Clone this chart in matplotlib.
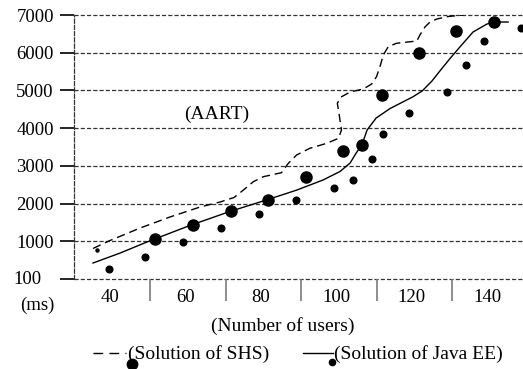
import matplotlib
matplotlib.use("Agg")
import matplotlib.pyplot as plt
from matplotlib.lines import Line2D

plt.rcParams['font.family'] = ['Liberation Serif', 'DejaVu Serif']
plt.rcParams['lines.scale_dashes'] = False

# ---- data ----
# SHS big dots
shs_x = [51.9, 61.9, 72.0, 82.0, 92.0, 101.8, 106.9, 112.1, 121.9, 131.9, 141.9]
shs_y = [1061, 1424, 1795, 2103, 2697, 3386, 3545, 4871, 6000, 6584, 6807]
# Java EE small dots
jee_x = [39.7, 49.3, 59.4, 69.4, 79.6, 89.3, 99.3, 104.5, 109.4, 112.4, 119.3, 129.3, 134.5, 139.3, 148.9]
jee_y = [273, 583, 981, 1360, 1731, 2087, 2413, 2633, 3182, 3853, 4409, 4966, 5666, 6311, 6663]
# tiny marker at start of dashed curve
tiny_x = [36.6]
tiny_y = [769]
# SHS curve (dashed)
shs_line_x = [35.5, 39.7, 48.0, 55.9, 63.9, 69.2, 72.9, 75.4, 78.0, 80.7, 85.5, 87.3, 89.5, 93.0,
              97.5, 100.6, 101.4, 101.0, 100.6, 100.3, 101.3, 103.7, 107.2, 109.4, 110.7, 111.6,
              112.5, 113.8, 116.0, 121.4, 122.2, 123.6, 124.9, 126.7, 129.7, 133.7]
shs_line_y = [809, 1008, 1352, 1644, 1909, 2042, 2161, 2360, 2580, 2713, 2819, 3068, 3288, 3466,
              3598, 3731, 3951, 4216, 4481, 4659, 4826, 4958, 5038, 5170, 5364, 5629,
              5939, 6160, 6250, 6311, 6470, 6690, 6814, 6894, 6960, 7000]
# Java EE curve (solid)
jee_line_x = [35.5, 42.7, 49.8, 61.2, 71.8, 81.9, 89.6, 96.5, 101.0, 103.7, 105.3, 106.8, 108.2,
              110.6, 114.3, 120.4, 122.8, 125.4, 127.5, 130.2, 132.8, 136.3, 140.0, 141.9, 145.6]
jee_line_y = [424, 689, 981, 1419, 1790, 2108, 2360, 2625, 2850, 3076, 3341, 3553, 3951,
              4269, 4521, 4834, 4985, 5250, 5515, 5847, 6151, 6549, 6761, 6814, 6814]

ytick_vals = [0, 1000, 2000, 3000, 4000, 5000, 6000, 7000]
ytick_labels = ['', '1000', '2000', '3000', '4000', '5000', '6000', '7000']
xtick_vals = [40, 60, 80, 100, 120, 140]
xtick_labels = ['40', '60', '80', '100', '120', '140']
xsep = [50.7, 70.7, 90.7, 110.7, 130.7]

W, H = 523, 369
fig = plt.figure(figsize=(W / 100, H / 100), dpi=100)
ax = fig.add_axes([74 / W, 1 - 279 / H, (523 - 74) / W, (279 - 15) / H])
ax.set_xlim(30.45, 149.55)
ax.set_ylim(0, 7000)

gridstyle = (0, (3, 1.5))
for v in ytick_vals:
    ax.axhline(v, color='#333333', lw=0.9, ls=gridstyle, zorder=1, clip_on=False)

for s in ['top', 'right', 'bottom']:
    ax.spines[s].set_visible(False)
ax.spines['left'].set_linestyle(gridstyle)
ax.spines['left'].set_linewidth(0.9)
ax.spines['left'].set_color('#333333')

ax.set_yticks(ytick_vals)
ax.set_yticklabels(ytick_labels)
ax.tick_params(axis='y', length=10, width=1.2, color='black', pad=4.5, labelsize=13.5)

ax.set_xticks(xsep)
ax.set_xticklabels([])
ax.tick_params(axis='x', which='major', length=16, width=1.2, color='#7a7a7a', direction='out')
ax.set_xticks(xtick_vals, minor=True)
ax.set_xticklabels(xtick_labels, minor=True)
ax.tick_params(axis='x', which='minor', length=0, pad=7, labelsize=13.5)

# curves
ax.plot(shs_line_x, shs_line_y, color='black', lw=1.0, ls=(0, (6, 3.5)), zorder=3)
ax.plot(jee_line_x, jee_line_y, color='black', lw=1.0, ls='-', zorder=3)
# points
ax.plot(shs_x, shs_y, 'o', color='black', ms=8.0, zorder=4, clip_on=False)
ax.plot(jee_x, jee_y, 'o', color='black', ms=4.8, zorder=4, clip_on=False)
ax.plot(tiny_x, tiny_y, 'o', color='black', ms=2.2, zorder=4, clip_on=False)

def fx(px):
    return px / W

def fy(py):
    return 1 - py / H

fig.text(fx(27), fy(280), '100', ha='center', va='center', fontsize=13.5)
fig.text(fx(37), fy(305), '(ms)', ha='center', va='center', fontsize=13.5)
fig.text(fx(217), fy(114), '(AART)', ha='center', va='center', fontsize=14)
fig.text(fx(283), fy(326), '(Number of users)', ha='center', va='center', fontsize=14)

# legend
fig.add_artist(Line2D([fx(93), fx(126)], [fy(353), fy(353)], color='black', lw=1.0,
                      ls=(0, (7, 4.5)), transform=fig.transFigure))
fig.add_artist(Line2D([fx(132.3)], [fy(364)], marker='o', color='black', ms=7.5,
                      transform=fig.transFigure))
fig.text(fx(128), fy(354), '(Solution of SHS)', ha='left', va='center', fontsize=14)
fig.add_artist(Line2D([fx(302.5), fx(333)], [fy(353), fy(353)], color='black', lw=1.0,
                      transform=fig.transFigure))
fig.add_artist(Line2D([fx(331.7)], [fy(361.5)], marker='o', color='black', ms=4.5,
                      transform=fig.transFigure))
fig.text(fx(334), fy(354), '(Solution of Java EE)', ha='left', va='center', fontsize=14)

fig.savefig('out.png', dpi=100)
